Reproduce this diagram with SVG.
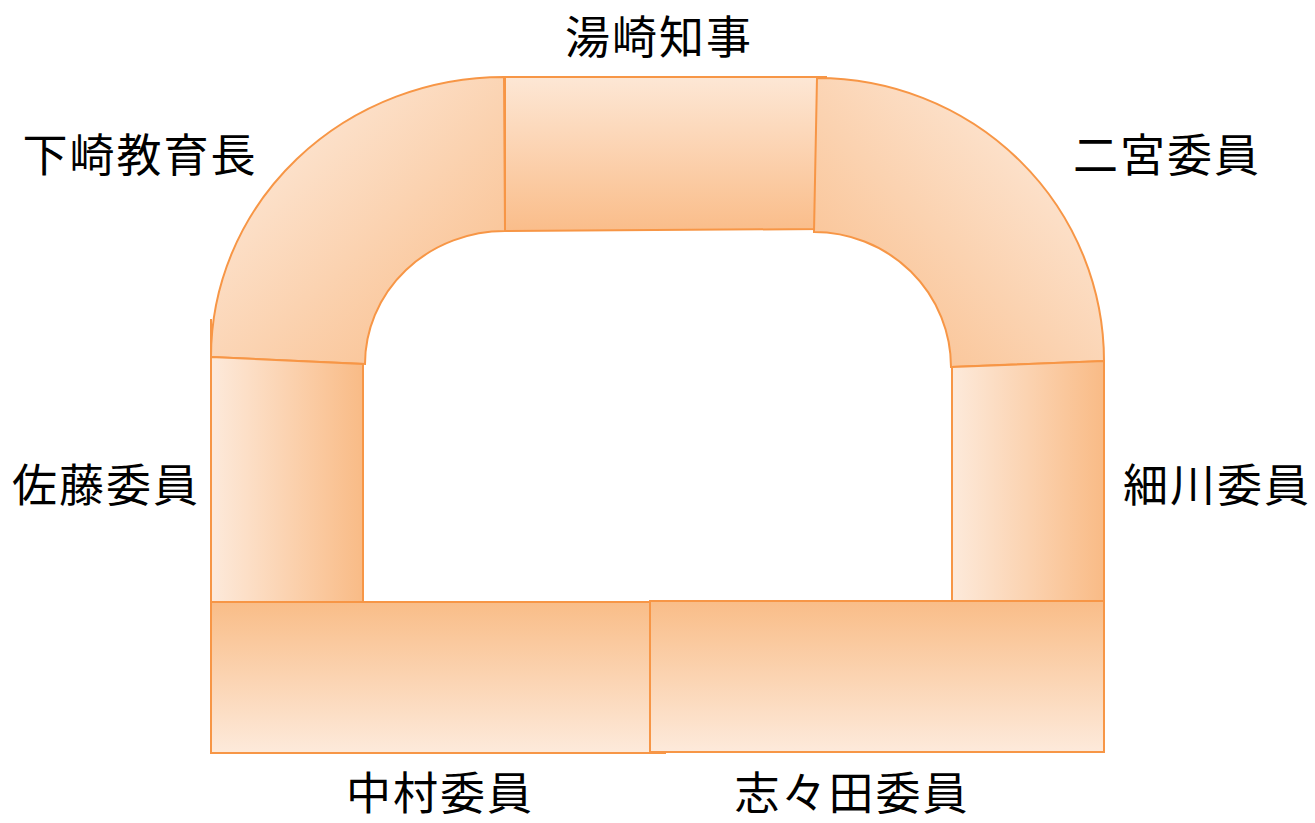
<svg xmlns="http://www.w3.org/2000/svg" width="1315" height="823" viewBox="0 0 1315 823">
<style>
.seat{stroke:#f79646;stroke-width:2;stroke-linejoin:miter}
.lbl{font-family:"Noto Sans CJK JP","Noto Sans CJK SC",sans-serif;font-size:45px;fill:#000;text-anchor:middle;letter-spacing:2px}
</style>
<defs>
<linearGradient id="gH" x1="0" y1="0" x2="1" y2="0"><stop offset="0" stop-color="#fdeadb"/><stop offset="1" stop-color="#f9bb86"/></linearGradient>
<linearGradient id="gUp" x1="0" y1="0" x2="0" y2="1"><stop offset="0" stop-color="#f9bd88"/><stop offset="1" stop-color="#fdeadb"/></linearGradient>
<linearGradient id="gDown" x1="0" y1="0" x2="0" y2="1"><stop offset="0" stop-color="#fde7d5"/><stop offset="1" stop-color="#fabd8a"/></linearGradient>
<linearGradient id="gTL" x1="0" y1="0" x2="1" y2="1"><stop offset="0.1" stop-color="#fdeadb"/><stop offset="1" stop-color="#f9bb86"/></linearGradient>
<linearGradient id="gTR" x1="1" y1="0" x2="0" y2="1"><stop offset="0.1" stop-color="#fdeadb"/><stop offset="1" stop-color="#f9bb86"/></linearGradient>
</defs>
<g id="connectors"></g>
<g id="node-shimozaki">
<path class="seat" fill="url(#gTL)" d="M211,357 A293,280 0 0 1 504,77 L505,231 A140,133 0 0 0 365,364 Z"/>
<path class="seat" fill="none" d="M211,319 L211,357"/>
<text class="lbl" x="140" y="172">下崎教育長</text>
</g>
<g id="node-yuzaki">
<path class="seat" fill="url(#gDown)" d="M505,77 L826,77 L822,229 L505,231 Z"/>
<text class="lbl" x="659" y="54">湯崎知事</text>
</g>
<g id="node-ninomiya">
<path class="seat" fill="url(#gTR)" d="M817,78 A287,283 0 0 1 1104,361 L951,367 A137,135 0 0 0 814,232 Z"/>
<text class="lbl" x="1167" y="172">二宮委員</text>
</g>
<g id="node-sato">
<path class="seat" fill="url(#gH)" d="M211,357 L363,364 L363,602 L211,602 Z"/>
<text class="lbl" x="106" y="502">佐藤委員</text>
</g>
<g id="node-hosokawa">
<path class="seat" fill="url(#gH)" d="M952,367 L1104,361 L1104,601 L952,601 Z"/>
<text class="lbl" x="1217" y="502">細川委員</text>
</g>
<g id="node-nakamura">
<rect class="seat" fill="url(#gUp)" x="211" y="602" width="454" height="151"/>
<text class="lbl" x="440" y="810">中村委員</text>
</g>
<g id="node-shishida">
<rect class="seat" fill="url(#gUp)" x="650" y="601" width="454" height="151"/>
<text class="lbl" x="852" y="810">志々田委員</text>
</g>
</svg>
